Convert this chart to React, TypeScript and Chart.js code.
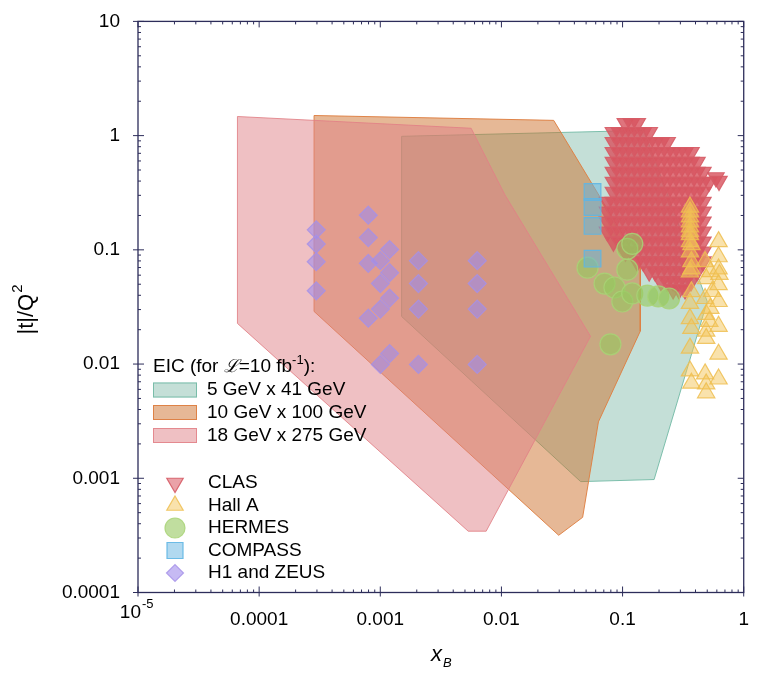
import React, { useEffect, useRef } from 'react';
import { Chart, registerables } from 'chart.js';
Chart.register(...registerables);

const FONT = "'Liberation Sans', Arial, Helvetica, sans-serif";
const AXIS = '#2d2d5a';

// ---- axes ----
const xTickValues = [1e-5, 1e-4, 1e-3, 1e-2, 1e-1, 1];
const xTickLabels = ['', '0.0001', '0.001', '0.01', '0.1', '1'];
const yTickValues = [1e-4, 1e-3, 1e-2, 1e-1, 1, 10];
const yTickLabels = ['0.0001', '0.001', '0.01', '0.1', '1', '10'];

// ---- EIC acceptance regions (xB, |t|/Q^2) ----
const eic5x41: number[][] = [
  [0.0015, 0.986], [0.15, 1.11], [0.5, 0.0353], [0.182, 0.000975], [0.0451, 0.000935], [0.0015, 0.0261],
];
const eic10x100: number[][] = [
  [0.000284, 1.5], [0.027, 1.36], [0.14, 0.0757], [0.14, 0.0194], [0.0632, 0.00312], [0.0468, 0.000455], [0.0297, 0.000317], [0.000284, 0.0289],
];
const eic18x275: number[][] = [
  [0.0000662, 1.47], [0.00562, 1.16], [0.0107, 0.302], [0.0544, 0.0175], [0.00748, 0.000344], [0.00532, 0.000344], [0.0000662, 0.0227],
];

// ---- CLAS: xB bins, and for each |t|/Q^2 row the first/last xB bin filled ----
const clasXB = [0.075, 0.084, 0.0941, 0.1054, 0.1181, 0.1322, 0.1482, 0.166, 0.1859, 0.2083, 0.2333, 0.2613, 0.2925, 0.3278, 0.3671, 0.4112, 0.4605, 0.5159];
const clasT = [1.28, 1.07, 0.875, 0.715, 0.585, 0.479, 0.392, 0.321, 0.262, 0.215, 0.176, 0.144, 0.1176, 0.0962, 0.0787, 0.0644, 0.0527, 0.045];
const clasFrom = [3, 1, 1, 1, 1, 1, 1, 1, 0, 0, 0, 0, 1, 3, 5, 7, 9, 11];
const clasTo = [5, 7, 10, 14, 15, 16, 17, 16, 16, 16, 16, 16, 16, 16, 16, 15, 14, 13];
const clasExtra: number[][] = [[0.59, 0.43], [0.625, 0.4]];

// ---- other measurements ----
const hallA: number[][] = [
  [0.36, 0.237], [0.36, 0.215], [0.36, 0.194], [0.36, 0.176], [0.36, 0.159], [0.36, 0.144], [0.36, 0.136], [0.36, 0.118],
  [0.37, 0.111], [0.36, 0.096], [0.37, 0.079], [0.37, 0.068], [0.36, 0.064], [0.37, 0.043], [0.36, 0.034], [0.36, 0.025],
  [0.37, 0.0205], [0.36, 0.0138], [0.36, 0.0087], [0.37, 0.0068],
  [0.48, 0.079], [0.49, 0.056], [0.48, 0.0375], [0.49, 0.0272], [0.49, 0.0194], [0.49, 0.0168], [0.48, 0.0082], [0.49, 0.0067], [0.49, 0.0056],
  [0.53, 0.0644], [0.55, 0.0432], [0.53, 0.0307], [0.52, 0.0236],
  [0.62, 0.118], [0.62, 0.087], [0.62, 0.068], [0.63, 0.061], [0.62, 0.0496], [0.62, 0.0353], [0.62, 0.0214], [0.62, 0.0122], [0.62, 0.0074],
];
const hermes: number[][] = [
  [0.0514, 0.0698], [0.071, 0.0507], [0.0857, 0.0468], [0.0995, 0.0353], [0.1202, 0.0415], [0.16, 0.0398],
  [0.197, 0.0391], [0.242, 0.0375], [0.1094, 0.0671], [0.1094, 0.102], [0.1202, 0.113], [0.0794, 0.0149],
];
const compass: number[][] = [
  [0.0565, 0.321], [0.0565, 0.237], [0.0565, 0.162], [0.0565, 0.0837],
];
const h1zeus: number[][] = [
  [0.000296, 0.1496], [0.000296, 0.1124], [0.000296, 0.0787], [0.000296, 0.0438],
  [0.000796, 0.201], [0.000796, 0.128], [0.000796, 0.0762], [0.000796, 0.0252],
  [0.001194, 0.1007], [0.001002, 0.0804], [0.001194, 0.0631], [0.001002, 0.0507], [0.001194, 0.0378], [0.001002, 0.0303],
  [0.002065, 0.0804], [0.002065, 0.0507], [0.002065, 0.0303],
  [0.00631, 0.0804], [0.00631, 0.0507], [0.00631, 0.0303],
  [0.001194, 0.01236], [0.001002, 0.00993], [0.002065, 0.00993], [0.00631, 0.00993],
];

const regionLabels = ['5 GeV x 41 GeV', '10 GeV x 100 GeV', '18 GeV x 275 GeV'];
const expLabels = ['CLAS', 'Hall A', 'HERMES', 'COMPASS', 'H1 and ZEUS'];

const C = {
  teal: { fill: 'rgba(137,192,176,0.5)', line: 'rgba(118,188,168,0.95)' },
  orange: { fill: 'rgba(205,113,45,0.5)', line: 'rgba(222,128,66,0.95)' },
  pink: { fill: 'rgba(223,129,135,0.5)', line: 'rgba(226,128,134,0.85)' },
  clas: { fill: 'rgba(216,86,96,0.82)', line: 'rgba(214,92,102,0.9)' },
  hallA: { fill: 'rgba(243,198,90,0.5)', line: 'rgba(238,190,80,0.85)' },
  hermes: { fill: 'rgba(150,200,95,0.6)', line: 'rgba(168,212,118,0.85)' },
  compass: { fill: 'rgba(100,180,225,0.5)', line: 'rgba(95,182,228,0.9)' },
  h1: { fill: 'rgba(160,140,235,0.6)', line: 'rgba(165,145,232,0.8)' },
};
const clasLegendFill = 'rgba(216,86,96,0.55)';

const toPts = (a: number[][]) => a.map(([x, y]) => ({ x, y }));
const closed = (a: number[][]) => toPts([...a, a[0]]);

function clasTable(): number[][] {
  const out: number[][] = [];
  clasT.forEach((t, r) => {
    for (let i = clasFrom[r]; i <= clasTo[r]; i++) out.push([clasXB[i], t]);
  });
  return out.concat(clasExtra);
}

function marker(ctx: CanvasRenderingContext2D, style: string, cx: number, cy: number, fill: string, stroke: string) {
  ctx.beginPath();
  if (style === 'down' || style === 'up') {
    const r = 9.5;
    const base = style === 'down' ? Math.PI : 0;
    for (let i = 0; i < 3; i++) {
      const t = base + (i * 2 * Math.PI) / 3;
      const px = cx + Math.sin(t) * r;
      const py = cy - Math.cos(t) * r;
      if (i) ctx.lineTo(px, py); else ctx.moveTo(px, py);
    }
    ctx.closePath();
  } else if (style === 'circle') {
    ctx.arc(cx, cy, 10, 0, Math.PI * 2);
  } else if (style === 'square') {
    ctx.rect(cx - 8, cy - 8, 16, 16);
  } else {
    const r = 8.5;
    ctx.moveTo(cx - r, cy); ctx.lineTo(cx, cy - r); ctx.lineTo(cx + r, cy); ctx.lineTo(cx, cy + r); ctx.closePath();
  }
  ctx.fillStyle = fill; ctx.fill();
  ctx.strokeStyle = stroke; ctx.lineWidth = 1.2; ctx.stroke();
}

const overlay = {
  id: 'overlay',
  afterDraw(chart: any) {
    const { ctx, chartArea: a } = chart;
    const xs = chart.scales.x;
    const ys = chart.scales.y;
    ctx.save();
    ctx.strokeStyle = AXIS;
    ctx.lineWidth = 1.3;
    ctx.strokeRect(a.left, a.top, a.right - a.left, a.bottom - a.top);
    ctx.lineWidth = 1;
    ctx.beginPath();
    for (let k = -5; k <= 0; k++) {
      for (let m = 1; m <= 9; m++) {
        const v = m * Math.pow(10, k);
        if (v > 1.000001) break;
        const px = xs.getPixelForValue(v);
        const len = m === 1 ? 6 : 3;
        ctx.moveTo(px, a.bottom + (m === 1 ? 4 : 0)); ctx.lineTo(px, a.bottom - len);
        ctx.moveTo(px, a.top); ctx.lineTo(px, a.top + len);
      }
    }
    for (let k = -4; k <= 1; k++) {
      for (let m = 1; m <= 9; m++) {
        const v = m * Math.pow(10, k);
        if (v > 10.00001) break;
        const py = ys.getPixelForValue(v);
        const len = m === 1 ? 6 : 3;
        ctx.moveTo(a.left - (m === 1 ? 5 : 0), py); ctx.lineTo(a.left + len, py);
        ctx.moveTo(a.right, py); ctx.lineTo(a.right - len, py);
      }
    }
    ctx.stroke();

    ctx.fillStyle = '#000';
    ctx.textBaseline = 'middle';
    const x0 = xs.getPixelForValue(xTickValues[0]);
    ctx.font = `19px ${FONT}`;
    ctx.textAlign = 'right';
    ctx.fillText('10', x0 + 3, a.bottom + 20);
    ctx.textAlign = 'left';
    ctx.font = `13px ${FONT}`;
    ctx.fillText('-5', x0 + 4, a.bottom + 12);

    ctx.save();
    ctx.translate(27, 310);
    ctx.rotate(-Math.PI / 2);
    ctx.font = `22px ${FONT}`;
    const t1 = '|t|/Q';
    const w1 = ctx.measureText(t1).width;
    ctx.font = `15px ${FONT}`;
    const w2 = ctx.measureText('2').width;
    const sx = -(w1 + w2) / 2;
    ctx.font = `22px ${FONT}`;
    ctx.textAlign = 'left';
    ctx.fillText(t1, sx, 0);
    ctx.font = `15px ${FONT}`;
    ctx.fillText('2', sx + w1 + 1, -9);
    ctx.restore();

    ctx.textAlign = 'left';
    ctx.textBaseline = 'alphabetic';
    ctx.font = `italic 22px ${FONT}`;
    ctx.fillText('x', 431, 661);
    ctx.font = `italic 13px ${FONT}`;
    ctx.fillText('B', 443, 667);

    ctx.textBaseline = 'middle';
    ctx.font = `19px ${FONT}`;
    let lx = 153;
    const ly = 367;
    const parts1 = 'EIC (for ';
    ctx.fillText(parts1, lx, ly); lx += ctx.measureText(parts1).width;
    ctx.font = `italic 18px 'DejaVu Serif', serif`;
    ctx.fillText('\u2112', lx, ly); lx += ctx.measureText('\u2112').width;
    ctx.font = `19px ${FONT}`;
    ctx.fillText('=10 fb', lx, ly); lx += ctx.measureText('=10 fb').width;
    ctx.font = `13px ${FONT}`;
    ctx.fillText('-1', lx, ly - 7); lx += ctx.measureText('-1').width;
    ctx.font = `19px ${FONT}`;
    ctx.fillText('):', lx, ly);

    const sw = [C.teal, C.orange, C.pink];
    const swy = [390, 412.5, 435.5];
    for (let i = 0; i < 3; i++) {
      ctx.fillStyle = sw[i].fill;
      ctx.fillRect(153, swy[i] - 7.5, 44, 15);
      ctx.strokeStyle = sw[i].line;
      ctx.lineWidth = 1;
      ctx.strokeRect(153.5, swy[i] - 7, 43, 14);
      ctx.fillStyle = '#000';
      ctx.fillText(regionLabels[i], 207, swy[i]);
    }

    const styles = ['down', 'up', 'circle', 'square', 'diamond'];
    const fills = [clasLegendFill, C.hallA.fill, C.hermes.fill, C.compass.fill, C.h1.fill];
    const lines = [C.clas.line, C.hallA.line, C.hermes.line, C.compass.line, C.h1.line];
    for (let i = 0; i < 5; i++) {
      const yy = 483 + i * 22.5;
      marker(ctx, styles[i], 175, yy, fills[i], lines[i]);
      ctx.fillStyle = '#000';
      ctx.font = `19px ${FONT}`;
      ctx.fillText(expLabels[i], 208, yy);
    }
    ctx.restore();
  },
};

export default function App() {
  const ref = useRef<HTMLCanvasElement>(null);
  useEffect(() => {
    const pts = (data: number[][], style: string, radius: number, col: { fill: string; line: string }, order: number, rot = 0) => ({
      label: style,
      data: toPts(data),
      pointStyle: style,
      pointRadius: radius,
      pointRotation: rot,
      pointBackgroundColor: col.fill,
      pointBorderColor: col.line,
      pointBorderWidth: 1.2,
      showLine: false,
      order,
    });
    const poly = (data: number[][], col: { fill: string; line: string }, order: number) => ({
      label: 'region',
      data: closed(data),
      showLine: true,
      fill: 'shape',
      tension: 0,
      backgroundColor: col.fill,
      borderColor: col.line,
      borderWidth: 1,
      pointRadius: 0,
      order,
    });
    const chart = new Chart(ref.current as HTMLCanvasElement, {
      type: 'scatter',
      data: {
        datasets: [
          pts(h1zeus, 'rectRot', 9, C.h1, 1),
          pts(compass, 'rect', 11.8, C.compass, 2),
          pts(hermes, 'circle', 10.5, C.hermes, 3),
          pts(hallA, 'triangle', 10, C.hallA, 4),
          pts(clasTable(), 'triangle', 9.5, C.clas, 5, 180),
          poly(eic18x275, C.pink, 6),
          poly(eic10x100, C.orange, 7),
          poly(eic5x41, C.teal, 8),
        ] as any,
      },
      options: {
        responsive: false,
        animation: false,
        devicePixelRatio: 1,
        layout: { padding: { left: 0, right: 10, top: 18.5, bottom: 0 } },
        plugins: { legend: { display: false }, tooltip: { enabled: false } },
        scales: {
          x: {
            type: 'logarithmic',
            position: 'bottom',
            min: 1e-5,
            max: 1,
            afterBuildTicks: (s: any) => { s.ticks = xTickValues.map((v) => ({ value: v })); },
            afterFit: (s: any) => { s.height = 80.5; },
            grid: { display: false },
            border: { display: false },
            ticks: {
              callback: (_v: any, i: number) => xTickLabels[i],
              font: { family: FONT, size: 19 },
              color: '#000',
              padding: 8,
              maxRotation: 0,
              autoSkip: false,
            },
          },
          y: {
            type: 'logarithmic',
            position: 'left',
            min: 1e-4,
            max: 10,
            afterBuildTicks: (s: any) => { s.ticks = yTickValues.map((v) => ({ value: v })); },
            afterFit: (s: any) => { s.width = 138; },
            grid: { display: false },
            border: { display: false },
            ticks: {
              callback: (_v: any, i: number) => yTickLabels[i],
              font: { family: FONT, size: 19 },
              color: '#000',
              padding: 10,
              autoSkip: false,
            },
          },
        },
      } as any,
      plugins: [overlay as any],
    });
    return () => chart.destroy();
  }, []);
  return (
    <div style={{ position: 'fixed', left: 0, top: 0, width: 757, height: 673, background: '#fff' }}>
      <canvas ref={ref} width={757} height={673} style={{ display: 'block', width: 757, height: 673 }} />
    </div>
  );
}
